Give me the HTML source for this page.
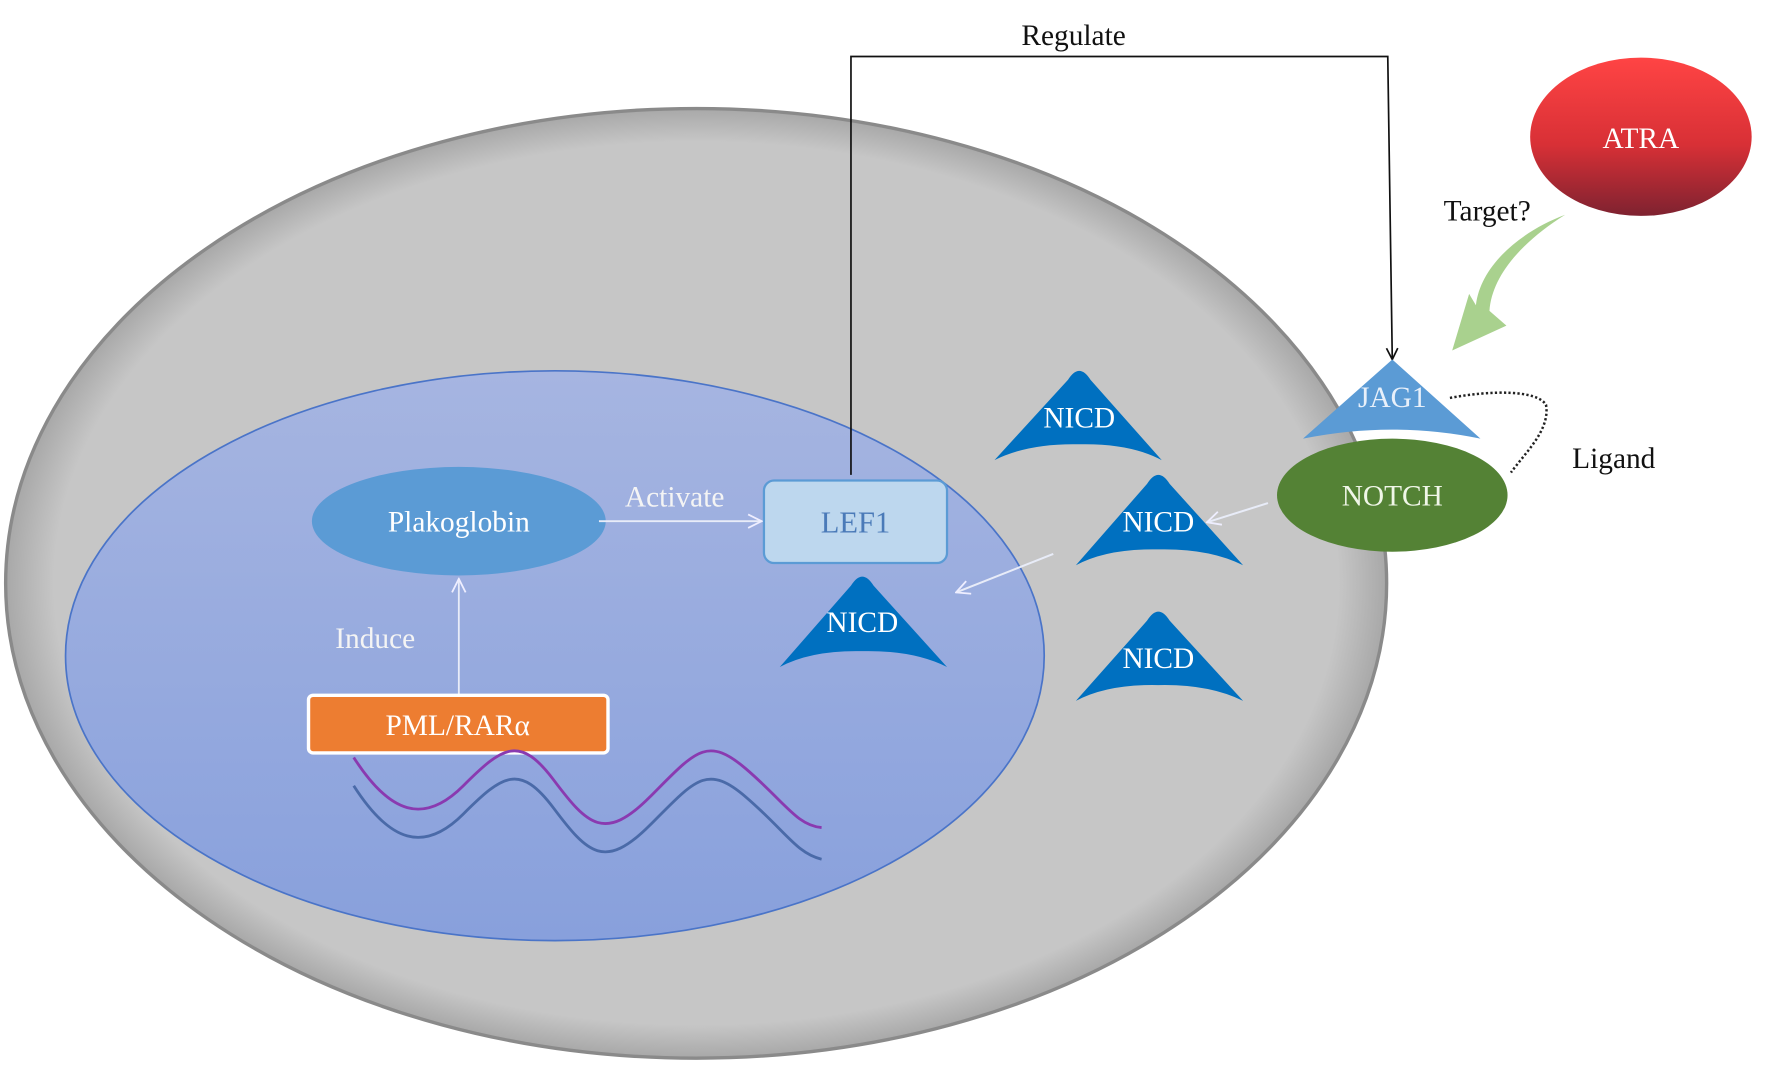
<!DOCTYPE html>
<html><head><meta charset="utf-8"><style>
html,body{margin:0;padding:0;background:#fff;width:1772px;height:1074px;overflow:hidden}
svg{display:block}
text{font-family:"Liberation Serif",serif}
</style></head><body>
<svg width="1772" height="1074" viewBox="0 0 1568 950" preserveAspectRatio="none" xmlns="http://www.w3.org/2000/svg">
<defs>
<radialGradient id="cell" cx="50%" cy="50%" r="50%">
<stop offset="0.93" stop-color="#c6c6c6"/><stop offset="1" stop-color="#a8a8a8"/></radialGradient>
<linearGradient id="nuc" x1="0" y1="0" x2="0" y2="1">
<stop offset="0" stop-color="#a6b5e1"/><stop offset="1" stop-color="#88a0dc"/></linearGradient>
<linearGradient id="atra" x1="0" y1="0" x2="0" y2="1">
<stop offset="0" stop-color="#ff4444"/><stop offset="0.55" stop-color="#d83036"/><stop offset="1" stop-color="#7e2230"/></linearGradient>
<marker id="ab" viewBox="0 0 12 12" refX="11" refY="6" markerWidth="12" markerHeight="12" markerUnits="userSpaceOnUse" orient="auto">
<path d="M1 1 L11 6 L1 11" fill="none" stroke="#111" stroke-width="1.5"/></marker>
<marker id="aw" viewBox="0 0 14 14" refX="13" refY="7" markerWidth="14" markerHeight="14" markerUnits="userSpaceOnUse" orient="auto">
<path d="M1 1 L13 7 L1 13" fill="none" stroke="#eef" stroke-width="1.6"/></marker>
</defs>
<ellipse cx="616" cy="516" rx="611" ry="420" fill="url(#cell)" stroke="#8a8a8a" stroke-width="3"/>
<ellipse cx="491" cy="580" rx="433" ry="252" fill="url(#nuc)" stroke="#4a74c8" stroke-width="1.5"/>
<!-- regulate -->
<polyline points="753,420 753,50 1228,50 1232,318" fill="none" stroke="#111" stroke-width="1.5" marker-end="url(#ab)"/>
<text x="950" y="40" font-size="26" text-anchor="middle" fill="#111">Regulate</text>
<!-- plakoglobin -->
<ellipse cx="406" cy="461" rx="130" ry="48" fill="#5b9bd5"/>
<text x="406" y="470" font-size="26" text-anchor="middle" fill="#fff">Plakoglobin</text>
<rect x="676" y="425" width="162" height="73" rx="9" fill="#bdd7ee" stroke="#5b9bd5" stroke-width="2"/>
<text x="757" y="471" font-size="27" text-anchor="middle" fill="#4a7ab8">LEF1</text>
<line x1="530" y1="461" x2="674" y2="461" stroke="#e8ecf8" stroke-width="1.6" marker-end="url(#aw)"/>
<text x="597" y="448" font-size="26" text-anchor="middle" fill="#f4f4f4">Activate</text>
<line x1="406" y1="614" x2="406" y2="512" stroke="#e8ecf8" stroke-width="1.6" marker-end="url(#aw)"/>
<text x="332" y="573" font-size="26" text-anchor="middle" fill="#f4f4f4">Induce</text>
<rect x="273" y="615" width="265" height="51" rx="4" fill="#ed7d31" stroke="#fff" stroke-width="3"/>
<text x="405" y="650" font-size="26" text-anchor="middle" fill="#fff">PML/RARα</text>
<path d="M313 670 C345 720,375 730,410 695 S460 650,490 690 S535 745,575 705 S625 650,660 680 S705 730,727 732" fill="none" stroke="#8a3ab0" stroke-width="2.5"/>
<path d="M313 695 C345 745,375 755,410 720 S460 675,490 715 S535 770,575 730 S625 675,660 705 S705 755,727 760" fill="none" stroke="#4a6aa8" stroke-width="2.5"/>
<!-- NICDs -->
<g fill="#0070c0">
<path d="M955 328 Q960 328 965 336 L1028 407 Q1000 392 955 393 Q910 392 880 407 L945 336 Q950 328 955 328Z"/>
<path d="M1025 420 Q1030 420 1035 428 L1100 500 Q1070 485 1025 486 Q980 485 952 500 L1015 428 Q1020 420 1025 420Z"/>
<path d="M763 510 Q768 510 773 518 L838 590 Q808 575 763 576 Q718 575 690 590 L753 518 Q758 510 763 510Z"/>
<path d="M1025 541 Q1030 541 1035 549 L1100 620 Q1070 605 1025 606 Q980 605 952 620 L1015 549 Q1020 541 1025 541Z"/>
</g>
<g font-size="26" text-anchor="middle" fill="#fff">
<text x="955" y="378">NICD</text><text x="1025" y="470">NICD</text>
<text x="763" y="559">NICD</text><text x="1025" y="591">NICD</text>
</g>
<line x1="1122" y1="445" x2="1068" y2="462" stroke="#e8ecf8" stroke-width="1.8" marker-end="url(#aw)"/>
<line x1="932" y1="490" x2="846" y2="524" stroke="#e8ecf8" stroke-width="1.8" marker-end="url(#aw)"/>
<!-- JAG1 / NOTCH -->
<path d="M1232 318 L1310 388 Q1232 372 1153 388 Z" fill="#5b9bd5"/>
<text x="1232" y="360" font-size="26" text-anchor="middle" fill="#e8f0fa">JAG1</text>
<ellipse cx="1232" cy="438" rx="102" ry="50" fill="#548235"/>
<text x="1232" y="447" font-size="26" text-anchor="middle" fill="#f0f6e8">NOTCH</text>
<path d="M1283 352 C1320 345,1360 345,1368 358 C1372 380,1350 400,1337 418" fill="none" stroke="#222" stroke-width="2.2" stroke-dasharray="2,2"/>
<text x="1428" y="414" font-size="26" text-anchor="middle" fill="#111">Ligand</text>
<!-- ATRA -->
<ellipse cx="1452" cy="121" rx="98" ry="70" fill="url(#atra)"/>
<text x="1452" y="131" font-size="26" text-anchor="middle" fill="#fff">ATRA</text>
<text x="1316" y="195" font-size="26" text-anchor="middle" fill="#111">Target?</text>
<path d="M1385 190 C1345 215,1320 245,1318 275 L1333 288 L1285 310 L1300 260 L1306 270 C1310 235,1345 205,1385 190Z" fill="#a9d18e"/>
</svg>
</body></html>
